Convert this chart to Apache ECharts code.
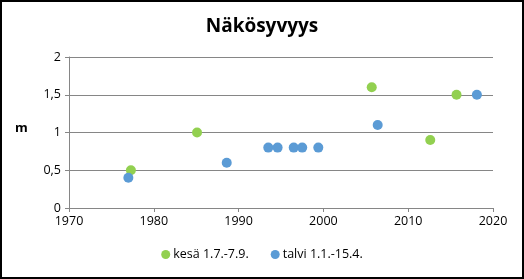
<!DOCTYPE html>
<html><head><meta charset="utf-8">
<script src="https://cdn.jsdelivr.net/npm/echarts@6/dist/echarts.min.js"></script>
<style>html,body{margin:0;padding:0;background:#fff}#c{width:524px;height:279px}</style>
</head><body><div id="c"></div>
<script>
const title = "Näkösyvyys";
const seriesNames = ["kesä 1.7.-7.9.", "talvi 1.1.-15.4."];
const kesaYears  = [1977.3, 1985.1, 2005.7, 2012.6, 2015.7];
const kesaValues = [0.5, 1.0, 1.6, 0.9, 1.5];
const talviYears  = [1977.0, 1988.6, 1993.5, 1994.6, 1996.5, 1997.5, 1999.4, 2006.4, 2018.1];
const talviValues = [0.4, 0.6, 0.8, 0.8, 0.8, 0.8, 0.8, 1.1, 1.5];
const yAxisName = "m";

const chart = echarts.init(document.getElementById('c'), null, {renderer:'canvas'});
const font = "Open Sans";
chart.setOption({
  animation:false,
  backgroundColor:'#fff',
  title:{text:title,left:'center',top:12,textStyle:{fontFamily:font,fontWeight:'bold',fontSize:19,color:'#000'}},
  graphic:[
    {type:'rect',shape:{x:1,y:1,width:522,height:277},style:{fill:'none',stroke:'#000',lineWidth:2},silent:true},
    {type:'text',left:15,top:122,style:{text:yAxisName,font:'bold 13px "Open Sans"',fill:'#000'}}
  ],
  legend:{bottom:13,left:'center',icon:'circle',itemWidth:9,itemHeight:9,itemGap:22,
    textStyle:{fontFamily:font,fontSize:12.5,color:'#000',padding:[0,0,0,-2]},
    data:seriesNames},
  grid:{left:69,right:31,top:57,bottom:71},
  xAxis:{type:'value',min:1970,max:2020,interval:10,
    axisLine:{lineStyle:{color:'#868686',width:1}},
    axisTick:{show:true,length:4,lineStyle:{color:'#868686'}},
    splitLine:{show:false},
    axisLabel:{fontFamily:font,fontSize:12.5,color:'#000',margin:7,formatter:v=>String(v)}},
  yAxis:{type:'value',min:0,max:2,interval:0.5,
    axisLine:{show:true,lineStyle:{color:'#868686',width:1}},
    axisTick:{show:true,length:4,lineStyle:{color:'#868686'}},
    splitLine:{show:true,lineStyle:{color:'#868686',width:1}},
    axisLabel:{fontFamily:font,fontSize:12.5,color:'#000',margin:8,
      formatter:v=>String(v).replace('.',',')}},
  series:[
    {name:seriesNames[0],type:'scatter',symbolSize:10,itemStyle:{color:'#92D050',opacity:1},
     data:kesaYears.map((y,i)=>[y,kesaValues[i]])},
    {name:seriesNames[1],type:'scatter',symbolSize:10,itemStyle:{color:'#5B9BD5',opacity:1},
     data:talviYears.map((y,i)=>[y,talviValues[i]])}
  ]
});
</script></body></html>
